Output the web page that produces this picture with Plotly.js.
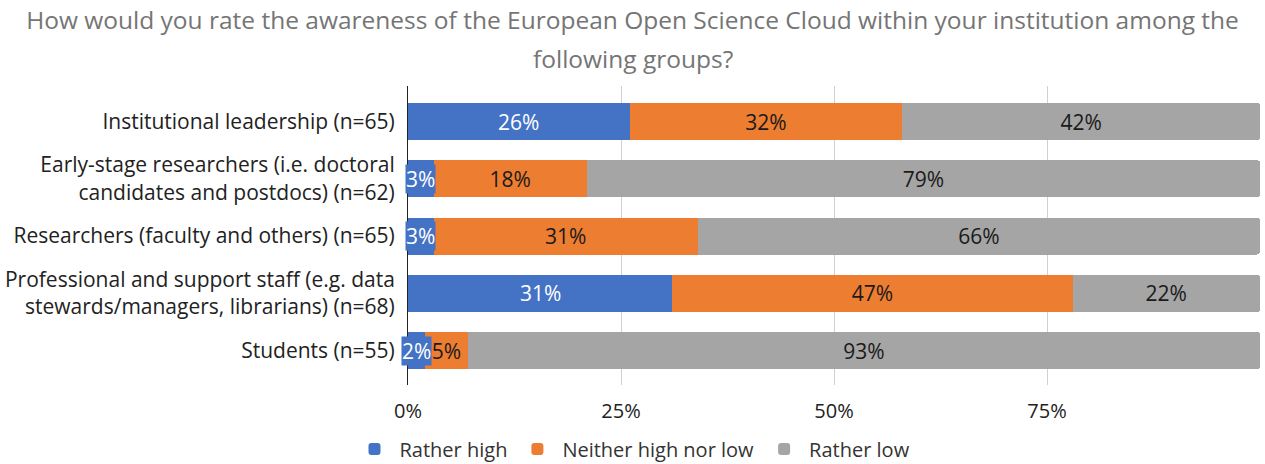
<!DOCTYPE html>
<html><head><meta charset="utf-8">
<script src="https://cdn.plot.ly/plotly-3.0.1.min.js"></script>
<style>html,body{margin:0;padding:0;background:#fff;}#chart{width:1265px;height:464px;}</style>
</head><body><div id="chart"></div>
<script>
const categories = [
  "Institutional leadership (n=65)",
  "Early-stage researchers (i.e. doctoral<br>candidates and postdocs) (n=62)",
  "Researchers (faculty and others) (n=65)",
  "Professional and support staff (e.g. data<br>stewards/managers, librarians) (n=68)",
  "Students (n=55)"
];
const seriesNames = ["Rather high", "Neither high nor low", "Rather low"];
const ratherHigh = [26, 3, 3, 31, 2];
const neither = [32, 18, 31, 47, 5];
const ratherLow = [42, 79, 66, 22, 93];
const colors = ["#4472c4", "#ed7d31", "#a5a5a5"];
const textColors = ["#ffffff", "#1a1a1a", "#1a1a1a"];
const tickVals = [0, 25, 50, 75, 100];
const tickText = ["0%", "25%", "50%", "75%", ""];

const FONT = "Open Sans";

const values = [ratherHigh, neither, ratherLow];
const traces = values.map((v, i) => ({
  type: "bar",
  orientation: "h",
  name: seriesNames[i],
  y: categories,
  x: v,
  text: v.map(n => n + "%"),
  textposition: i === 0 ? "none" : "inside",
  insidetextanchor: "middle",
  textangle: 0,
  constraintext: "none",
  textfont: {family: FONT, size: 21, color: textColors[i]},
  marker: {color: colors[i], line: {width: 0}},
  width: 0.645,
  hoverinfo: "skip",
  cliponaxis: false
}));

// Labels for the first series, centred in each blue segment (halo so small ones stay legible)
const blueLabels = ratherHigh.map((v, k) => ({
  text: v + "%",
  xref: "x", yref: "y",
  x: v / 2, y: categories[k],
  xanchor: "center", yanchor: "middle",
  showarrow: false,
  bgcolor: colors[0],
  borderpad: 0,
  font: {family: FONT, size: 21, color: "#ffffff"}
}));

const W = 1265, H = 464;
const M = {l: 408, r: 5, t: 86, b: 79};
const plotW = W - M.l - M.r, plotH = H - M.t - M.b;

const layout = {
  width: W, height: H,
  barmode: "stack",
  barcornerradius: 3,
  margin: Object.assign({autoexpand: false}, M),
  paper_bgcolor: "#ffffff",
  plot_bgcolor: "#ffffff",
  font: {family: FONT, size: 21, color: "#222222"},
  title: {
    text: "How would you rate the awareness of the European Open Science Cloud within your institution among the",
    font: {family: FONT, size: 24.5, color: "#757575"},
    x: 0.5, xanchor: "center", xref: "container",
    y: 1, yref: "container", yanchor: "top", pad: {t: 12}
  },
  annotations: [{
    text: "following groups?",
    xref: "paper", yref: "paper",
    x: (W / 2 - M.l) / plotW,
    y: 1 + (M.t - 58) / plotH,
    xanchor: "center", yanchor: "middle",
    showarrow: false,
    font: {family: FONT, size: 24.5, color: "#757575"}
  }].concat(blueLabels),
  xaxis: {
    range: [0, 100],
    tickvals: tickVals,
    ticktext: tickText,
    showgrid: true,
    gridcolor: "#d0d0d0",
    gridwidth: 1,
    zeroline: false,
    showline: false,
    ticks: "",
    ticklabelstandoff: 12,
    tickfont: {family: FONT, size: 20, color: "#222222"},
    fixedrange: true
  },
  yaxis: {
    type: "category",
    range: [4.6, -0.62],
    showgrid: false,
    zeroline: false,
    showline: true,
    linecolor: "#222222",
    linewidth: 1,
    ticks: "",
    ticklabelstandoff: 8,
    tickfont: {family: FONT, size: 21, color: "#222222"},
    fixedrange: true
  },
  showlegend: true,
  legend: {
    orientation: "h",
    x: (W / 2 - M.l) / plotW, xanchor: "center",
    y: -(449 - (H - M.b)) / plotH, yanchor: "middle",
    font: {family: FONT, size: 20, color: "#333333"},
    traceorder: "normal",
    itemwidth: 40,
    itemclick: false, itemdoubleclick: false
  }
};

Plotly.newPlot("chart", traces, layout, {displayModeBar: false, staticPlot: true});
</script></body></html>
